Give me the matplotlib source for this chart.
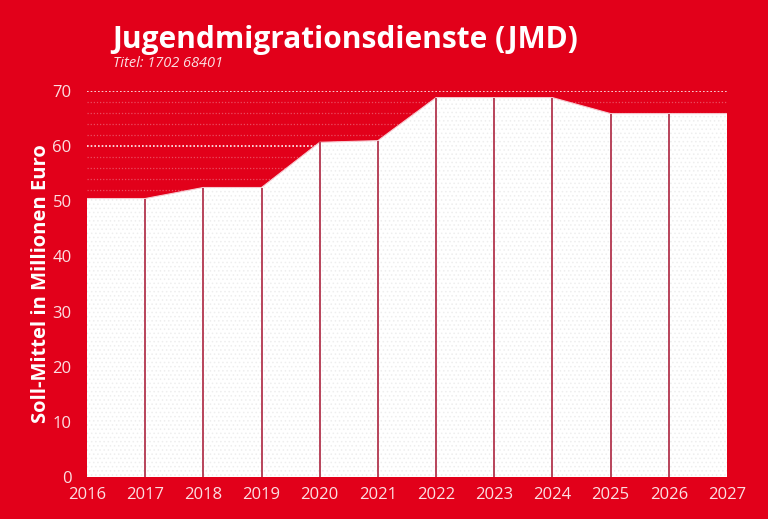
import matplotlib.pyplot as plt
import numpy as np

# Daten: Soll-Mittel in Mio. Euro
jahre = [2016, 2017, 2018, 2019, 2020, 2021, 2022, 2023, 2024, 2025, 2026, 2027]
werte = [50.5, 50.5, 52.5, 52.5, 60.7, 61.0, 68.8, 68.8, 68.8, 65.9, 65.9, 65.9]
y_ticks = [0, 10, 20, 30, 40, 50, 60, 70]

rot = '#e2001a'
linie = '#b8435a'
schrift = '#fbdfe2'

plt.rcParams['font.family'] = ['Open Sans', 'DejaVu Sans']
plt.rcParams['hatch.linewidth'] = 0.6
plt.rcParams['hatch.color'] = '#eeeeee'

fig = plt.figure(figsize=(7.68, 5.19), dpi=100, facecolor=rot)
ax = fig.add_axes([87 / 768, 1 - 477 / 519, 640 / 768, 386 / 519])
ax.set_facecolor(rot)

# Hilfslinien
for y in np.arange(2, 72, 2):
    if y % 10 == 0:
        ax.axhline(y, color='white', lw=1.2, ls=(0, (1, 1.2)), alpha=0.95, zorder=1)
    else:
        ax.axhline(y, color='white', lw=0.9, ls=(0, (1, 1.5)), alpha=0.3, zorder=1)

ax.fill_between(jahre, 0, werte, facecolor='white', edgecolor='none',
                hatch='....', zorder=2)
ax.plot(jahre, werte, color='#f6c8cf', lw=0.8, zorder=3)
ax.vlines(jahre[1:-1], 0, werte[1:-1], color=linie, lw=1.4, zorder=4)

ax.set_xlim(2016, 2027)
ax.set_ylim(0, 70)
ax.set_xticks(jahre)
ax.set_yticks(y_ticks)
ax.tick_params(length=0, colors=schrift, labelsize=12)
ax.tick_params(axis='x', pad=7)
ax.tick_params(axis='y', pad=11)
for s in ax.spines.values():
    s.set_visible(False)

ax.set_ylabel('Soll-Mittel in Millionen Euro', color='white', fontsize=14.5,
              fontweight='bold', labelpad=1)

fig.text(112 / 768, 1 - 48 / 519, 'Jugendmigrationsdienste (JMD)', color='white',
         fontsize=21.5, fontweight='bold', ha='left', va='baseline')
fig.text(113 / 768, 1 - 67 / 519, 'Titel: 1702 68401', color=schrift,
         fontsize=10.5, style='italic', ha='left', va='baseline')

fig.savefig('out.png', dpi=100, facecolor=rot)
